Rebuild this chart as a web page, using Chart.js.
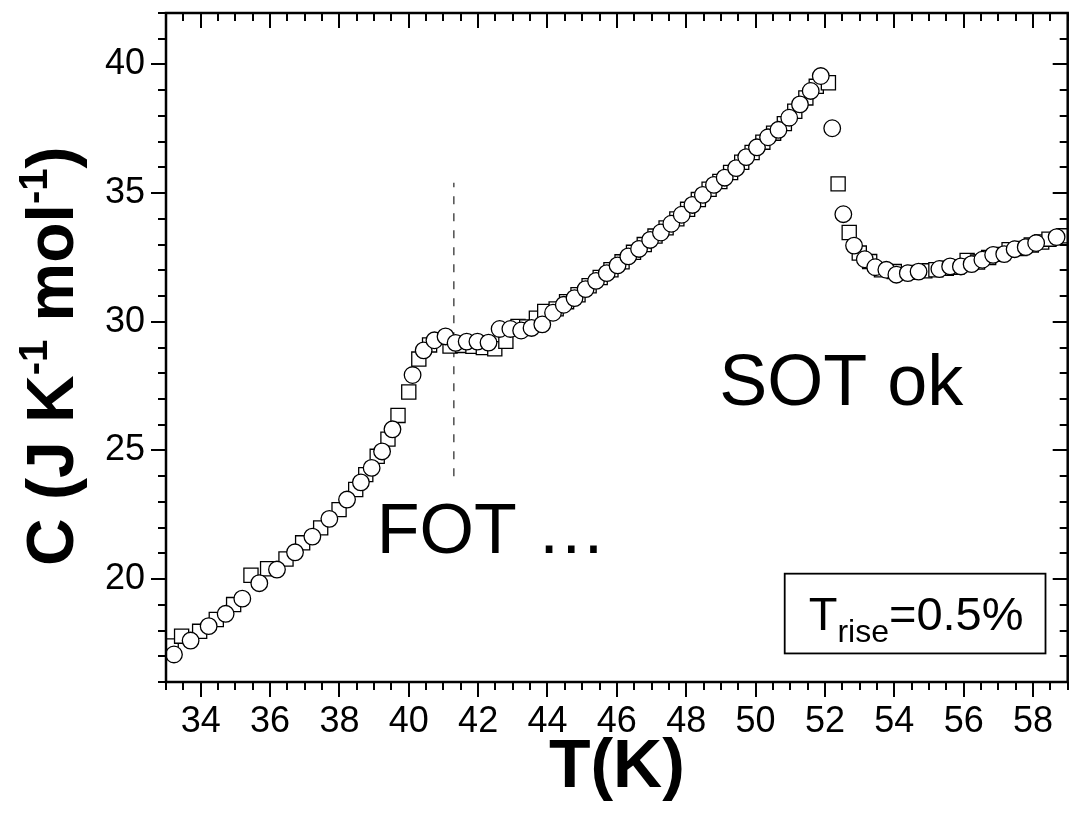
<!DOCTYPE html>
<html>
<head>
<meta charset="utf-8">
<script src="https://cdn.jsdelivr.net/npm/chart.js@4.4.1/dist/chart.umd.min.js"></script>
<style>
  html, body { margin: 0; padding: 0; background: #fff; }
  #wrap { width: 1079px; height: 819px; position: relative; }
</style>
</head>
<body>
<div id="wrap"><canvas id="c" width="1079" height="819"></canvas></div>
<script>
// ---- data ----
const circleT = [33.23,33.71,34.23,34.72,35.20,35.69,36.20,36.72,37.22,37.71,38.22,38.62,38.93,39.23,39.53,40.11,40.43,40.74,41.06,41.35,41.67,41.98,42.30,42.62,42.93,43.24,43.54,43.85,44.16,44.47,44.78,45.10,45.40,45.71,46.02,46.33,46.64,46.96,47.27,47.57,47.87,48.18,48.48,48.80,49.11,49.44,49.73,50.04,50.36,50.66,50.97,51.28,51.59,51.88,52.21,52.53,52.84,53.15,53.45,53.77,54.06,54.39,54.70,55.30,55.61,55.92,56.23,56.54,56.85,57.17,57.47,57.79,58.09,58.68];
const circleC = [17.07,17.61,18.17,18.65,19.24,19.84,20.37,21.04,21.65,22.34,23.09,23.76,24.32,24.96,25.82,27.93,28.89,29.28,29.43,29.18,29.23,29.23,29.19,29.72,29.72,29.66,29.76,29.90,30.35,30.66,30.92,31.27,31.59,31.89,32.19,32.54,32.83,33.18,33.47,33.81,34.16,34.54,34.93,35.32,35.60,35.97,36.40,36.78,37.17,37.46,37.93,38.45,38.97,39.55,37.52,34.18,32.96,32.43,32.12,32.02,31.83,31.89,31.95,32.05,32.15,32.15,32.24,32.41,32.60,32.63,32.82,32.90,33.06,33.29];
const squareT = [33.15,33.45,33.97,34.45,34.95,35.45,35.93,36.46,36.94,37.46,37.99,38.47,38.76,39.09,39.40,39.69,40.00,40.29,40.60,41.19,41.55,41.85,42.15,42.48,42.80,43.15,43.40,43.68,43.92,44.25,44.55,44.88,45.20,45.52,45.83,46.15,46.48,46.79,47.10,47.42,47.73,48.04,48.35,48.66,48.97,49.28,49.60,49.90,50.21,50.52,50.83,51.13,51.45,51.75,52.10,52.38,52.70,52.99,53.29,53.63,54.00,54.55,54.88,55.20,55.50,55.80,56.10,56.40,56.72,57.02,57.31,57.62,57.95,58.25,58.46,58.88];
const squareC = [17.40,17.78,17.97,18.43,19.01,20.15,20.40,20.78,21.41,21.99,22.70,23.48,24.06,24.77,25.44,26.36,27.27,28.55,29.10,29.06,29.08,29.05,29.00,28.95,29.24,29.82,29.80,30.14,30.40,30.50,30.78,31.05,31.40,31.72,32.02,32.33,32.70,33.00,33.33,33.65,34.00,34.37,34.75,35.15,35.45,35.80,36.20,36.58,36.98,37.33,37.70,38.18,38.70,39.15,39.29,35.36,33.47,32.67,32.34,32.02,31.95,31.92,31.98,32.02,32.08,32.12,32.38,32.32,32.50,32.62,32.80,32.85,32.98,33.10,33.21,33.34];
const markerT = [41.3, 41.3];
const markerC = [24.0, 35.4];
const xTickValues = [34,36,38,40,42,44,46,48,50,52,54,56,58];
const yTickValues = [20,25,30,35,40];
const xMin = 33, xMax = 59, yMin = 16, yMax = 42;

const FONT = "'Liberation Sans', Arial, Helvetica, sans-serif";
const toXY = (xs, ys) => xs.map((v, i) => ({x: v, y: ys[i]}));

const decorPlugin = {
  id: 'decor',
  afterDraw(chart) {
    const {ctx, chartArea: a, scales: {x, y}} = chart;
    ctx.save();
    ctx.strokeStyle = '#000';
    ctx.fillStyle = '#000';
    // ticks
    ctx.lineWidth = 2;
    ctx.beginPath();
    for (let v = xMin; v <= xMax + 1e-9; v += 0.5) {
      const px = Math.round(x.getPixelForValue(v));
      const major = Math.abs(v % 2) < 1e-9;
      const len = major ? 15 : 8;
      ctx.moveTo(px, a.bottom); ctx.lineTo(px, a.bottom + len);
      ctx.moveTo(px, a.top); ctx.lineTo(px, a.top + len);
    }
    for (let v = yMin; v <= yMax + 1e-9; v += 1) {
      const py = Math.round(y.getPixelForValue(v));
      const major = Math.abs(v % 5) < 1e-9;
      const len = major ? 15 : 8;
      ctx.moveTo(a.left - len, py); ctx.lineTo(a.left, py);
      ctx.moveTo(a.right - len, py); ctx.lineTo(a.right, py);
    }
    ctx.stroke();
    // frame
    ctx.lineWidth = 2.5;
    ctx.strokeRect(a.left, a.top, a.right - a.left, a.bottom - a.top);

    // annotations
    ctx.textBaseline = 'alphabetic';
    ctx.textAlign = 'left';
    ctx.font = `72px ${FONT}`;
    ctx.fillText('SOT ok', x.getPixelForValue(48.95), y.getPixelForValue(26.78));
    ctx.font = `70px ${FONT}`;
    ctx.fillText('FOT \u2026', x.getPixelForValue(39.08), y.getPixelForValue(21.03));

    // T_rise box
    const bx0 = x.getPixelForValue(50.84), bx1 = x.getPixelForValue(58.36);
    const by0 = y.getPixelForValue(20.21), by1 = y.getPixelForValue(17.11);
    ctx.lineWidth = 1.8;
    ctx.strokeRect(bx0, by0, bx1 - bx0, by1 - by0);
    let cx = bx0 + 24;
    const base = by0 + 56;
    ctx.font = `47px ${FONT}`;
    ctx.fillText('T', cx, base);
    cx += ctx.measureText('T').width;
    ctx.font = `32px ${FONT}`;
    ctx.fillText('rise', cx, base + 12);
    cx += ctx.measureText('rise').width;
    ctx.font = `47px ${FONT}`;
    ctx.fillText('=0.5%', cx, base);

    // y axis title with superscripts
    ctx.translate(73, 566);
    ctx.rotate(-Math.PI / 2);
    const big = `bold 66px ${FONT}`, sup = `bold 40px ${FONT}`;
    const parts = [['C (J K', big, 0], ['-1', sup, -26], [' mol', big, 0], ['-1', sup, -26], [')', big, 0]];
    let tx = 0;
    for (const [t, f, dy] of parts) {
      ctx.font = f;
      ctx.fillText(t, tx, dy);
      tx += ctx.measureText(t).width;
    }
    ctx.restore();
  }
};

new Chart(document.getElementById('c'), {
  type: 'scatter',
  data: {
    datasets: [
      {
        label: 'circles',
        data: toXY(circleT, circleC),
        pointStyle: 'circle',
        pointRadius: 8.3,
        pointBackgroundColor: '#fff',
        pointBorderColor: '#000',
        pointBorderWidth: 1.3,
        showLine: false
      },
      {
        label: 'squares',
        data: toXY(squareT, squareC),
        pointStyle: 'rect',
        pointRadius: 10,
        pointBackgroundColor: '#fff',
        pointBorderColor: '#000',
        pointBorderWidth: 1.3,
        showLine: false
      },
      {
        label: 'FOT marker',
        data: toXY(markerT, markerC),
        showLine: true,
        borderColor: '#333',
        borderWidth: 1.3,
        borderDash: [8, 9],
        pointRadius: 0,
        fill: false
      }
    ]
  },
  options: {
    responsive: false,
    animation: false,
    devicePixelRatio: 1,
    layout: { padding: { top: 13, right: 8, left: 0, bottom: 0 } },
    plugins: { legend: { display: false }, tooltip: { enabled: false } },
    scales: {
      x: {
        type: 'linear',
        min: xMin, max: xMax,
        afterBuildTicks: s => { s.ticks = xTickValues.map(v => ({value: v})); },
        afterFit: s => { s.height = 137; s.paddingLeft = 0; s.paddingRight = 0; },
        grid: { drawOnChartArea: false, drawTicks: true, tickLength: 15, tickColor: 'rgba(0,0,0,0)' },
        border: { display: false },
        ticks: { color: '#000', font: { family: FONT, size: 36 }, padding: 3, maxRotation: 0, autoSkip: false },
        title: { display: true, text: 'T(K)', color: '#000', font: { family: FONT, size: 68, weight: 'bold' }, padding: { top: 0, bottom: 10 } }
      },
      y: {
        type: 'linear',
        min: yMin, max: yMax,
        afterBuildTicks: s => { s.ticks = yTickValues.map(v => ({value: v})); },
        afterFit: s => { s.width = 166; s.paddingTop = 0; s.paddingBottom = 0; },
        grid: { drawOnChartArea: false, drawTicks: true, tickLength: 15, tickColor: 'rgba(0,0,0,0)' },
        border: { display: false },
        ticks: { color: '#000', font: { family: FONT, size: 36 }, padding: 6, autoSkip: false }
      }
    }
  },
  plugins: [decorPlugin]
});
</script>
</body>
</html>
